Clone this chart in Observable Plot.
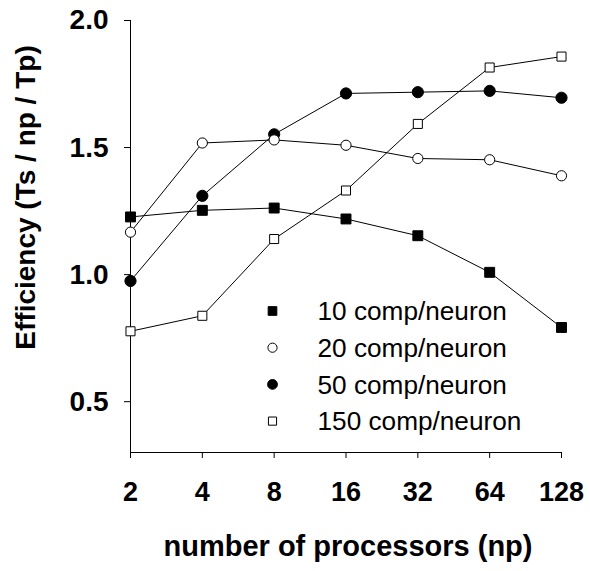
<!DOCTYPE html>
<html>
<head>
<meta charset="utf-8">
<script src="https://cdn.jsdelivr.net/npm/d3@7"></script>
<script src="https://cdn.jsdelivr.net/npm/@observablehq/plot@0.6"></script>
<style>
  html, body { margin: 0; padding: 0; background: #fff; }
  #chart svg { display: block; }
</style>
</head>
<body>
<div id="chart"></div>
<script>
// Number of processors (x values)
const processors = [2, 4, 8, 16, 32, 64, 128];
// Series values (efficiency)
const comp10  = [1.227, 1.253, 1.262, 1.219, 1.153, 1.009, 0.792];
const comp20  = [1.167, 1.518, 1.530, 1.509, 1.457, 1.452, 1.389];
const comp50  = [0.975, 1.310, 1.552, 1.713, 1.718, 1.723, 1.696];
const comp150 = [0.777, 0.838, 1.140, 1.331, 1.593, 1.815, 1.858];
const seriesNames = ["10 comp/neuron", "20 comp/neuron", "50 comp/neuron", "150 comp/neuron"];
const yTicks = [0.5, 1.0, 1.5, 2.0];
const yTitle = "Efficiency (Ts / np / Tp)";
const xTitle = "number of processors (np)";

const seriesValues = [comp10, comp20, comp50, comp150];
const symbolOf = {"10 comp/neuron": "square", "20 comp/neuron": "circle", "50 comp/neuron": "circle", "150 comp/neuron": "square"};
const filledOf = {"10 comp/neuron": true, "20 comp/neuron": false, "50 comp/neuron": true, "150 comp/neuron": false};

const rows = [];
seriesNames.forEach((name, s) => {
  processors.forEach((p, i) => rows.push({series: name, np: p, eff: seriesValues[s][i]}));
});

const drawOrder = ["50 comp/neuron", "150 comp/neuron", "10 comp/neuron", "20 comp/neuron"];
const dotMarks = drawOrder.map(name => Plot.dot(rows.filter(d => d.series === name), {
  x: "np", y: "eff",
  symbol: symbolOf[name],
  r: filledOf[name] ? 5.6 : 5.1,
  fill: filledOf[name] ? "black" : "white",
  stroke: "black",
  strokeWidth: 1
}));

const legendMarks = [];
seriesNames.forEach((name, i) => {
  legendMarks.push(Plot.dot([name], {
    frameAnchor: "top-left", dx: 142, dy: 290.5 + i * 36.7,
    symbol: symbolOf[name],
    r: filledOf[name] ? 4.9 : 4.6,
    fill: filledOf[name] ? "black" : "white",
    stroke: "black", strokeWidth: 1
  }));
  legendMarks.push(Plot.text([name], {
    frameAnchor: "top-left", dx: 187, dy: 291.5 + i * 36.7,
    text: d => d,
    textAnchor: "start", lineAnchor: "middle",
    fontSize: 26.2, fill: "black"
  }));
});

const chart = Plot.plot({
  width: 590,
  height: 571,
  marginLeft: 130,
  marginRight: 29,
  marginTop: 20,
  marginBottom: 119,
  style: {fontFamily: "'Liberation Sans', Arial, sans-serif", background: "white", color: "black"},
  x: {type: "log", base: 2, domain: [2, 128]},
  y: {domain: [0.3, 2.0]},
  marks: [
    Plot.ruleX([2], {stroke: "black", strokeWidth: 1}),
    Plot.ruleY([0.3], {stroke: "black", strokeWidth: 1}),
    Plot.axisY({ticks: yTicks, tickSize: 6, tickPadding: 16, tickFormat: d3.format(".1f"),
      fontSize: 28, fontWeight: "bold", label: null}),
    Plot.axisX({ticks: processors, tickSize: 6, tickPadding: 23, tickFormat: d => String(d),
      fontSize: 27, fontWeight: "bold", label: null}),
    ...seriesNames.map(name => Plot.line(rows.filter(d => d.series === name), {
      x: "np", y: "eff", stroke: "black", strokeWidth: 1
    })),
    ...dotMarks,
    ...legendMarks,
    Plot.text([yTitle], {frameAnchor: "left", rotate: -90, dx: -104, dy: -39,
      text: d => d, fontSize: 28, fontWeight: "bold", textAnchor: "middle", lineAnchor: "middle", fill: "black"}),
    Plot.text([xTitle], {frameAnchor: "bottom", dx: 2, dy: 94,
      text: d => d, fontSize: 29, fontWeight: "bold", textAnchor: "middle", lineAnchor: "middle", fill: "black"})
  ]
});
document.getElementById("chart").appendChild(chart);
</script>
</body>
</html>
